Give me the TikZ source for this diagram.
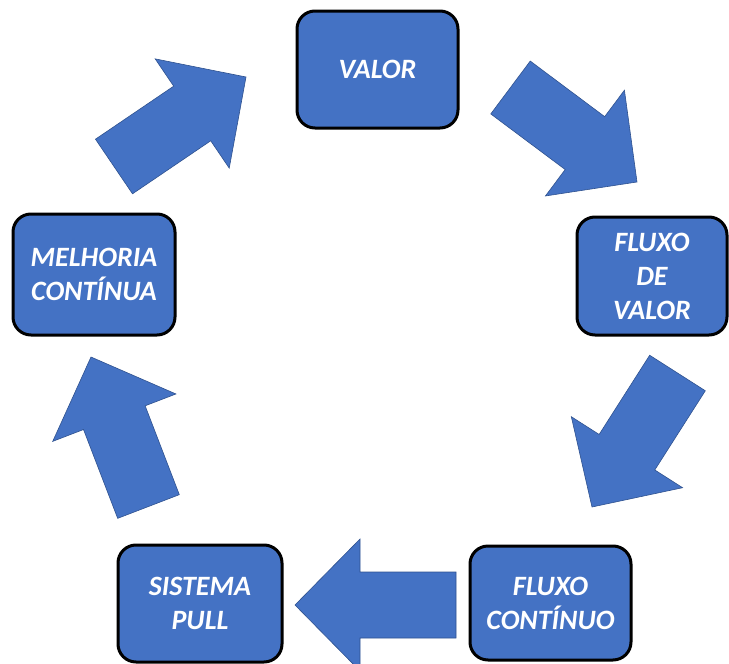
\documentclass[tikz,border=0pt]{standalone}
\usepackage{fontspec}
\setmainfont{Carlito}
\usetikzlibrary{calc}
\definecolor{leanblue}{HTML}{4472C4}
\definecolor{leanedge}{HTML}{2F528F}
% block arrow from tail middle #1 to tip #2
\newcommand{\cyclearrow}[2]{%
  \coordinate (neck) at ($(#2)!65pt!(#1)$);
  \filldraw[arr] ($(#1)!33pt!90:(#2)$) -- ($(neck)!33pt!90:(#2)$) -- ($(neck)!66pt!90:(#2)$)
    -- (#2) -- ($(neck)!66pt!-90:(#2)$) -- ($(neck)!33pt!-90:(#2)$) -- ($(#1)!33pt!-90:(#2)$) -- cycle;}
\begin{document}
\begin{tikzpicture}[x=1pt, y=-1pt,
  box/.style={draw=black, line width=3pt, fill=leanblue, rounded corners=18pt, text=white,
    font=\fontsize{28}{34}\selectfont\bfseries\itshape, align=center, inner sep=0pt,
    minimum width=161pt, minimum height=117pt},
  arr/.style={fill=leanblue, draw=leanedge, line width=0.6pt, line join=miter}
]
\useasboundingbox (0,0) rectangle (729,664);
\node[box] (valor) at (377.5,69.5) {VALOR};
\node[box, minimum width=150pt, minimum height=118pt] (fluxovalor) at (652,276) {FLUXO\\DE\\VALOR};
\node[box, minimum height=114pt] (fluxocont) at (550.5,603) {FLUXO\\CONTÍNUO};
\node[box, minimum width=164pt] (pull) at (200,603.5) {SISTEMA\\PULL};
\node[box, minimum width=162pt, minimum height=121pt] (melhoria) at (94,274.5) {MELHORIA\\CONTÍNUA};
\coordinate (a1t) at (114,166.5);  \coordinate (a1h) at (246,77);
\coordinate (a2t) at (510.5,87.5); \coordinate (a2h) at (637,182);
\coordinate (a3t) at (677.5,373);  \coordinate (a3h) at (592,507);
\coordinate (a4t) at (456,605);    \coordinate (a4h) at (295,605);
\coordinate (a5t) at (148.5,506.5);\coordinate (a5h) at (91,357);
\cyclearrow{a1t}{a1h}
\cyclearrow{a2t}{a2h}
\cyclearrow{a3t}{a3h}
\cyclearrow{a4t}{a4h}
\cyclearrow{a5t}{a5h}
\end{tikzpicture}
\end{document}
